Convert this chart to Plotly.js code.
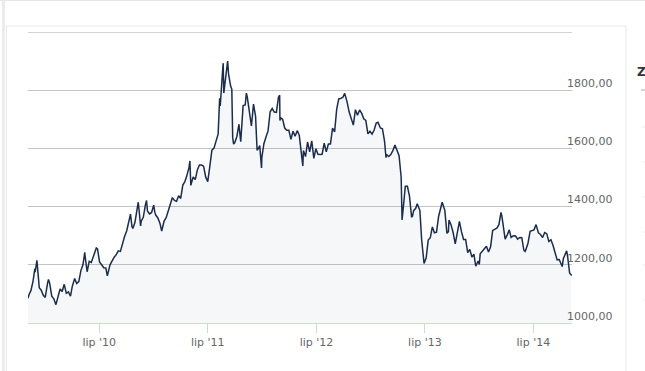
<!DOCTYPE html>
<html>
<head>
<meta charset="utf-8">
<script src="https://cdn.plot.ly/plotly-3.0.1.min.js"></script>
<style>
html,body{margin:0;padding:0;background:#fff;overflow:hidden;}
#chart{width:645px;height:371px;}
</style>
</head>
<body>
<div id="chart"></div>
<script>
var dates = [
"2009-11-03","2009-11-06","2009-11-13","2009-11-20","2009-11-26","2009-11-27","2009-12-03","2009-12-11","2009-12-18","2009-12-24","2009-12-31",
"2010-01-04","2010-01-08","2010-01-11","2010-01-15","2010-01-22","2010-01-29","2010-02-05","2010-02-12","2010-02-19","2010-02-26",
"2010-03-05","2010-03-12","2010-03-19","2010-03-26","2010-04-01","2010-04-09","2010-04-16","2010-04-23","2010-04-30","2010-05-07",
"2010-05-13","2010-05-14","2010-05-21","2010-05-28","2010-06-04","2010-06-11","2010-06-18","2010-06-21","2010-06-25","2010-07-02",
"2010-07-09","2010-07-16","2010-07-23","2010-07-28","2010-08-06","2010-08-13","2010-08-20","2010-08-27","2010-09-03","2010-09-10",
"2010-09-17","2010-09-24","2010-10-01","2010-10-08","2010-10-14","2010-10-19","2010-10-22","2010-10-29","2010-11-05","2010-11-09",
"2010-11-12","2010-11-17","2010-11-19","2010-11-26","2010-12-03","2010-12-07","2010-12-10","2010-12-17","2010-12-24","2010-12-31",
"2011-01-04","2011-01-07","2011-01-14","2011-01-21","2011-01-27","2011-02-04","2011-02-11","2011-02-18","2011-02-25","2011-03-04",
"2011-03-11","2011-03-18","2011-03-25","2011-04-01","2011-04-08","2011-04-15","2011-04-21","2011-04-29","2011-05-02","2011-05-05",
"2011-05-13","2011-05-20","2011-05-27","2011-06-03","2011-06-10","2011-06-17","2011-06-24","2011-07-01","2011-07-08","2011-07-15",
"2011-07-22","2011-07-29","2011-08-05","2011-08-10","2011-08-12","2011-08-19","2011-08-22","2011-08-24","2011-08-29","2011-09-02",
"2011-09-06","2011-09-09","2011-09-13","2011-09-16","2011-09-20","2011-09-23","2011-09-26","2011-09-30","2011-10-07","2011-10-14",
"2011-10-20","2011-10-28","2011-11-04","2011-11-08","2011-11-11","2011-11-18","2011-11-25","2011-12-02","2011-12-09","2011-12-14",
"2011-12-16","2011-12-23","2011-12-29","2011-12-30",
"2012-01-03","2012-01-06","2012-01-13","2012-01-20","2012-01-27","2012-02-03","2012-02-10","2012-02-17","2012-02-24","2012-02-28",
"2012-02-29","2012-03-02","2012-03-09","2012-03-16","2012-03-23","2012-03-30","2012-04-06","2012-04-13","2012-04-20","2012-04-27",
"2012-05-04","2012-05-11","2012-05-16","2012-05-18","2012-05-25","2012-06-01","2012-06-08","2012-06-15","2012-06-22","2012-06-29",
"2012-07-06","2012-07-13","2012-07-20","2012-07-27","2012-08-03","2012-08-10","2012-08-17","2012-08-24","2012-08-31","2012-09-07",
"2012-09-14","2012-09-21","2012-09-28","2012-10-04","2012-10-12","2012-10-19","2012-10-26","2012-11-02","2012-11-09","2012-11-16",
"2012-11-23","2012-11-30","2012-12-07","2012-12-14","2012-12-21","2012-12-28",
"2013-01-04","2013-01-11","2013-01-18","2013-01-24","2013-02-01","2013-02-08","2013-02-15","2013-02-20","2013-02-22","2013-03-01",
"2013-03-08","2013-03-15","2013-03-22","2013-03-28","2013-04-05","2013-04-12","2013-04-15","2013-04-19","2013-04-26","2013-05-03",
"2013-05-10","2013-05-17","2013-05-20","2013-05-24","2013-05-31","2013-06-05","2013-06-14","2013-06-20","2013-06-28","2013-07-05",
"2013-07-12","2013-07-19","2013-07-26","2013-08-02","2013-08-09","2013-08-16","2013-08-23","2013-08-28","2013-09-06","2013-09-13",
"2013-09-18","2013-09-20","2013-09-27","2013-10-04","2013-10-11","2013-10-18","2013-10-25","2013-11-01","2013-11-08","2013-11-15",
"2013-11-22","2013-11-29","2013-12-06","2013-12-13","2013-12-19","2013-12-27","2013-12-31",
"2014-01-03","2014-01-10","2014-01-17","2014-01-24","2014-01-31","2014-02-07","2014-02-14","2014-02-21","2014-02-28","2014-03-07",
"2014-03-14","2014-03-17","2014-03-21","2014-03-28","2014-04-04","2014-04-11","2014-04-17","2014-04-25","2014-05-02","2014-05-09",
"2014-05-16","2014-05-23","2014-05-30","2014-06-03","2014-06-06","2014-06-13","2014-06-20","2014-06-27","2014-07-03","2014-07-10",
"2014-07-18","2014-07-25","2014-08-01","2014-08-08","2014-08-15","2014-08-22","2014-08-29","2014-09-05","2014-09-12","2014-09-19",
"2014-09-26","2014-10-03","2014-10-06","2014-10-10","2014-10-17","2014-10-21","2014-10-24","2014-10-31","2014-11-07"
];
var prices = [
1085,1096,1112,1144,1187,1175,1215,1121,1112,1096,1088,
1121,1138,1150,1136,1092,1083,1063,1087,1117,1108,
1133,1102,1107,1092,1126,1153,1136,1142,1180,1200,
1243,1232,1176,1212,1208,1229,1256,1258,1255,1209,
1200,1190,1189,1162,1200,1215,1226,1235,1248,1246,
1276,1297,1316,1346,1374,1331,1325,1346,1393,1415,
1387,1334,1350,1363,1405,1421,1385,1375,1380,1405,
1380,1371,1361,1343,1316,1350,1362,1385,1409,1431,
1421,1418,1437,1428,1474,1486,1504,1535,1557,1473,
1502,1493,1526,1543,1543,1539,1502,1486,1539,1594,
1601,1628,1650,1772,1746,1853,1893,1790,1829,1876,
1900,1856,1822,1814,1804,1637,1615,1620,1641,1683,
1623,1747,1749,1790,1777,1726,1677,1752,1710,1595,
1595,1610,1533,1568,
1599,1616,1639,1660,1726,1737,1725,1724,1776,1783,
1696,1705,1700,1670,1662,1662,1631,1659,1642,1661,
1645,1587,1540,1593,1572,1622,1588,1626,1566,1599,
1580,1579,1580,1618,1588,1615,1615,1670,1657,1735,
1770,1772,1776,1789,1760,1725,1706,1680,1733,1714,
1732,1721,1702,1696,1650,1659,
1649,1663,1687,1690,1670,1667,1625,1568,1579,1572,
1579,1592,1612,1598,1575,1501,1354,1395,1470,1470,
1436,1365,1366,1386,1394,1410,1387,1286,1205,1223,
1285,1293,1330,1310,1312,1366,1395,1415,1387,1308,
1314,1354,1337,1310,1272,1319,1349,1314,1287,1287,
1242,1253,1227,1236,1195,1213,1201,
1238,1247,1254,1264,1244,1262,1318,1322,1326,1338,
1380,1367,1336,1288,1303,1320,1294,1300,1299,1288,
1294,1293,1250,1246,1253,1275,1315,1319,1320,1338,
1310,1304,1294,1311,1307,1280,1286,1267,1245,1217,
1218,1200,1194,1222,1239,1248,1231,1172,1163
];
var xTickVals = ["2010-07-01","2011-07-01","2012-07-01","2013-07-01","2014-07-01"];
var xTickText = ["lip '10","lip '11","lip '12","lip '13","lip '14"];
var yTickVals = [1000,1200,1400,1600,1800];

var L = 28, R = 572, T = 32, B = 323;
function px(x){ return (x - L) / (R - L); }
function py(y){ return (B - y) / (B - T); }

var trace = {
  x: dates, y: prices, type: 'scatter', mode: 'lines',
  line: {color: '#1b2d4d', width: 1.5},
  fill: 'tozeroy', fillcolor: 'rgba(30,50,90,0.04)',
  hoverinfo: 'skip'
};

var shapes = [
  {type:'line', xref:'paper', yref:'y', x0:0, x1:1, y0:2000, y1:2000, line:{color:'#c4c4c4', width:1.5}},
  {type:'rect', xref:'paper', yref:'paper', x0:px(6.5), x1:px(626), y0:py(380), y1:py(26), line:{color:'#e8e8e8', width:1}, fillcolor:'rgba(0,0,0,0)'},
  {type:'rect', xref:'paper', yref:'paper', x0:px(2), x1:px(5), y0:py(380), y1:py(-5), line:{width:0}, fillcolor:'#ebebeb'},
  {type:'line', xref:'paper', yref:'paper', x0:px(0), x1:px(650), y0:py(0.5), y1:py(0.5), line:{color:'#e8e8e8', width:1}},
  {type:'line', xref:'paper', yref:'paper', x0:px(641), x1:px(650), y0:py(90), y1:py(90), line:{color:'#aaaaaa', width:1}}
];
[127,162,197,232,265,300].forEach(function(v){
  shapes.push({type:'line', xref:'paper', yref:'paper', x0:px(642), x1:px(650), y0:py(v), y1:py(v), line:{color:'#eeeeee', width:1}});
});

var layout = {
  width: 645, height: 371,
  margin: {l: L, r: 645 - R, t: T, b: 371 - B, pad: 0},
  paper_bgcolor: '#ffffff', plot_bgcolor: '#ffffff',
  separators: ', ',
  showlegend: false,
  font: {family: 'DejaVu Sans, sans-serif', size: 11, color: '#666666'},
  xaxis: {
    type: 'date',
    range: ['2009-11-03', '2014-11-08'],
    tickvals: xTickVals, ticktext: xTickText,
    showgrid: false, zeroline: false,
    showline: true, linecolor: '#ccd6eb', linewidth: 1,
    ticks: 'outside', ticklen: 9, tickcolor: '#ccd6eb', tickwidth: 1,
    tickfont: {family: 'DejaVu Sans, sans-serif', size: 11, color: '#666666'},
    fixedrange: true
  },
  yaxis: {
    range: [1000, 2000],
    side: 'right',
    tickvals: yTickVals, tickformat: '.2f',
    showgrid: true, gridcolor: '#c4c4c4', gridwidth: 1,
    zeroline: false, showline: false, ticks: '',
    ticklabelposition: 'outside',
    ticklabelstandoff: -6, ticklabelshift: -7,
    tickfont: {family: 'DejaVu Sans, sans-serif', size: 11, color: '#666666'},
    fixedrange: true
  },
  shapes: shapes,
  annotations: [
    {xref:'paper', yref:'paper', x:px(635), y:py(72), xanchor:'left', yanchor:'middle', text:'<b>Z</b>', showarrow:false, font:{family:'DejaVu Sans, sans-serif', size:12, color:'#333333'}}
  ]
};

Plotly.newPlot('chart', [trace], layout, {staticPlot: true, displayModeBar: false});
</script>
</body>
</html>
